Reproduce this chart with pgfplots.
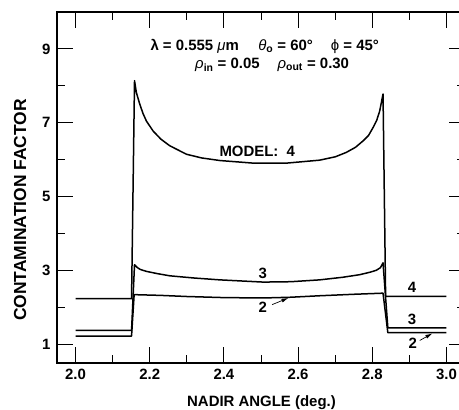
\documentclass[border=0pt]{standalone}
\usepackage{fontspec}
\setmainfont{Liberation Sans}
\usepackage{pgfplots}
\pgfplotsset{compat=1.18}
\usetikzlibrary{arrows.meta}
\newcommand{\fs}{\fontsize{15}{17}\selectfont\bfseries}
\begin{document}
\begin{tikzpicture}
\begin{axis}[
  at={(0,0)}, anchor=south west,
  scale only axis, width=408bp, height=351bp,
  xmin=1.95, xmax=3.05, ymin=0.5, ymax=10,
  xtick={2.0,2.2,2.4,2.6,2.8,3.0},
  minor xtick={2.1,2.3,2.5,2.7,2.9},
  ytick={1,3,5,7,9},
  minor ytick={2,4,6,8},
  xticklabel style={/pgf/number format/fixed, /pgf/number format/fixed zerofill, /pgf/number format/precision=1, yshift=-3bp},
  yticklabel style={xshift=-3bp},
  /pgf/number format/assume math mode=true,
  ticklabel style={font=\fs},
  tick align=inside,
  major tick length=16bp, minor tick length=8bp,
  every tick/.style={black, line width=1bp},
  axis line style={line width=1.4bp},
  clip=false,
]
\addplot[black, line width=1.5bp, line join=round] coordinates {
(2.00,2.24) (2.151,2.24) (2.159,8.14) (2.164,7.82) (2.173,7.51) (2.182,7.25) (2.191,7.05) (2.209,6.78) (2.230,6.56) (2.254,6.38) (2.299,6.15) (2.340,6.05) (2.389,5.98) (2.479,5.91) (2.569,5.91) (2.658,5.99) (2.700,6.08) (2.730,6.20) (2.755,6.34) (2.775,6.51) (2.790,6.66) (2.802,6.87) (2.812,7.07) (2.820,7.32) (2.829,7.78) (2.836,2.30) (3.00,2.30)
};
\addplot[black, line width=1.5bp, line join=round] coordinates {
(2.00,1.38) (2.151,1.38) (2.159,3.16) (2.167,3.08) (2.175,3.03) (2.191,2.98) (2.220,2.92) (2.254,2.86) (2.320,2.80) (2.389,2.75) (2.506,2.69) (2.580,2.70) (2.658,2.75) (2.720,2.82) (2.766,2.89) (2.795,2.96) (2.811,3.01) (2.822,3.08) (2.829,3.21) (2.842,1.45) (3.00,1.45)
};
\addplot[black, line width=1.5bp, line join=round] coordinates {
(2.00,1.23) (2.151,1.23) (2.158,2.35) (2.230,2.33) (2.299,2.30) (2.400,2.27) (2.506,2.26) (2.580,2.28) (2.658,2.32) (2.750,2.36) (2.829,2.39) (2.842,1.32) (3.00,1.32)
};
\node[font=\fs] at (axis cs:2.51,9.07) {λ = 0.555 \textit{\mdseries μ}m\hspace{1.3em}\textit{\mdseries θ}\textsubscript{o} = 60°\hspace{1.2em}{\mdseries ϕ} = 45°};
\node[font=\fs] at (axis cs:2.53,8.57) {\textit{\mdseries ρ}\textsubscript{in} = 0.05\hspace{1.2em}\textit{\mdseries ρ}\textsubscript{out} = 0.30};
\node[font=\fs] at (axis cs:2.49,6.24) {MODEL:\ \ 4};
\node[font=\fs] at (axis cs:2.505,2.92) {3};
\node[font=\fs] at (axis cs:2.505,2.00) {2};
\draw[line width=0.7bp, -{Latex[length=7bp,width=4bp]}] (axis cs:2.530,2.08) -- (axis cs:2.574,2.26);
\node[font=\fs] at (axis cs:2.907,2.54) {4};
\node[font=\fs] at (axis cs:2.907,1.68) {3};
\node[font=\fs] at (axis cs:2.909,1.03) {2};
\draw[line width=0.7bp, -{Latex[length=7bp,width=4bp]}] (axis cs:2.928,1.11) -- (axis cs:2.962,1.30);
\end{axis}
\node[font=\fontsize{17.5}{19}\selectfont\bfseries, rotate=90] at (-37bp,153bp) {CONTAMINATION FACTOR};
\node[font=\fs] at (204.5bp,-40bp) {NADIR ANGLE (deg.)};
\pgfresetboundingbox
\useasboundingbox (-57bp,-47bp) rectangle (402bp,363bp);
\end{tikzpicture}
\end{document}
